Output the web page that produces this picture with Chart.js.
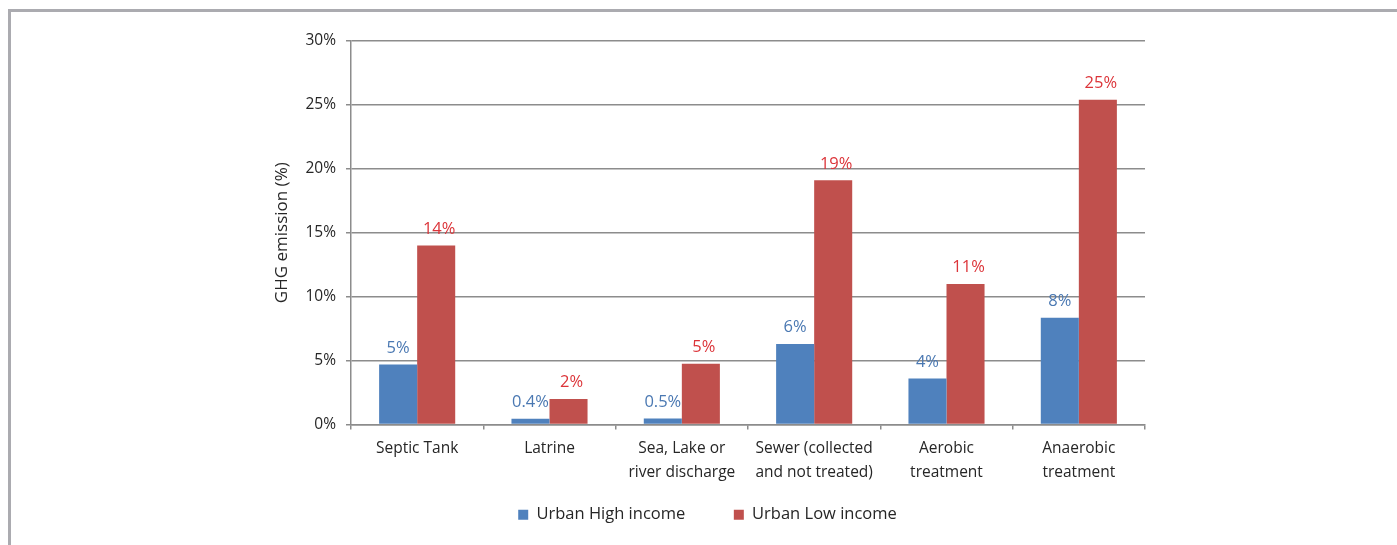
<!DOCTYPE html>
<html>
<head>
<meta charset="utf-8">
<script src="https://cdn.jsdelivr.net/npm/chart.js@4.4.1/dist/chart.umd.min.js"></script>
<style>
  html, body { margin: 0; padding: 0; background: #fff; }
  #frame {
    position: absolute; left: 8px; top: 9px; width: 1389px; height: 536px;
    border-top: 3px solid #ababb0; border-left: 3px solid #ababb0;
  }
  #wrap { position: absolute; left: 0; top: 0; width: 1397px; height: 545px; }
</style>
</head>
<body>
<div id="frame"></div>
<div id="wrap"><canvas id="ghg" width="1397" height="545"></canvas></div>
<script>
const categories = [
  ['Septic Tank'],
  ['Latrine'],
  ['Sea, Lake or', 'river discharge'],
  ['Sewer (collected', 'and not treated)'],
  ['Aerobic', 'treatment'],
  ['Anaerobic', 'treatment'],
]
const highIncome = [4.7, 0.45, 0.47, 6.3, 3.6, 8.35]
const lowIncome = [14.0, 2.0, 4.75, 19.1, 11.0, 25.4]
const highLabels = ['5%', '0.4%', '0.5%', '6%', '4%', '8%']
const lowLabels = ['14%', '2%', '5%', '19%', '11%', '25%']
const yTicks = [0, 5, 10, 15, 20, 25, 30]

const FONT = '"Open Sans", Lato, sans-serif'
const GRID = '#8c8c8c'

// value labels above each bar, taken from the bar elements
const barLabels = {
  id: 'barLabels',
  afterDatasetsDraw(chart) {
    const ctx = chart.ctx
    ctx.save()
    ctx.font = '16.5px ' + FONT
    ctx.textAlign = 'center'
    ctx.textBaseline = 'bottom'
    chart.data.datasets.forEach((ds, i) => {
      const meta = chart.getDatasetMeta(i)
      ctx.fillStyle = ds.labelColor
      meta.data.forEach((bar, j) => {
        ctx.fillText(ds.valueLabels[j], bar.x + (i ? 3 : 0), bar.y - 8)
      })
    })
    ctx.restore()
  }
}

new Chart(document.getElementById('ghg'), {
  type: 'bar',
  data: {
    labels: categories,
    datasets: [
      {
        label: 'Urban High income',
        data: highIncome,
        backgroundColor: '#4f81bd',
        valueLabels: highLabels,
        labelColor: '#4a78b2',
      },
      {
        label: 'Urban Low income',
        data: lowIncome,
        backgroundColor: '#c0504d',
        valueLabels: lowLabels,
        labelColor: '#dc3439',
      }
    ]
  },
  options: {
    responsive: false,
    animation: false,
    events: [],
    layout: { padding: { left: 270, right: 252, top: 41, bottom: 12 } },
    datasets: {
      bar: { categoryPercentage: 0.575, barPercentage: 1.0, borderWidth: 0 }
    },
    scales: {
      x: {
        grid: {
          offset: true,
          drawOnChartArea: false,
          drawTicks: true,
          tickLength: 5,
          color: GRID,
          lineWidth: 1.5,
        },
        border: { color: GRID, width: 1.5 },
        ticks: {
          color: '#262626',
          font: { family: FONT, size: 15.5, lineHeight: 1.55 },
          padding: 7,
          maxRotation: 0,
          autoSkip: false,
        },
        afterFit(scale) { scale.height = 72 },
      },
      y: {
        min: 0,
        max: 30,
        afterBuildTicks(scale) { scale.ticks = yTicks.map(v => ({ value: v })) },
        grid: { color: GRID, lineWidth: 1.5, tickLength: 5 },
        border: { color: GRID, width: 1.5 },
        ticks: {
          color: '#262626',
          font: { family: FONT, size: 15.5 },
          padding: 10,
          callback: v => v + '%',
        },
        title: {
          display: true,
          text: 'GHG emission (%)',
          color: '#262626',
          font: { family: FONT, size: 17 },
          padding: { top: 2, bottom: 4 },
        },
        afterFit(scale) { scale.width = 81 },
      }
    },
    plugins: {
      legend: {
        position: 'bottom',
        labels: {
          color: '#262626',
          font: { family: FONT, size: 16.5 },
          boxWidth: 10,
          boxHeight: 10,
          padding: 10,
          generateLabels(chart) {
            const items = Chart.defaults.plugins.legend.labels.generateLabels(chart)
            items.forEach((it, i) => {
              it.lineWidth = 0
              if (i < items.length - 1) it.text = it.text + ' '.repeat(9)
            })
            return items
          }
        }
      },
      tooltip: { enabled: false },
    }
  },
  plugins: [barLabels]
})
</script>
</body>
</html>
